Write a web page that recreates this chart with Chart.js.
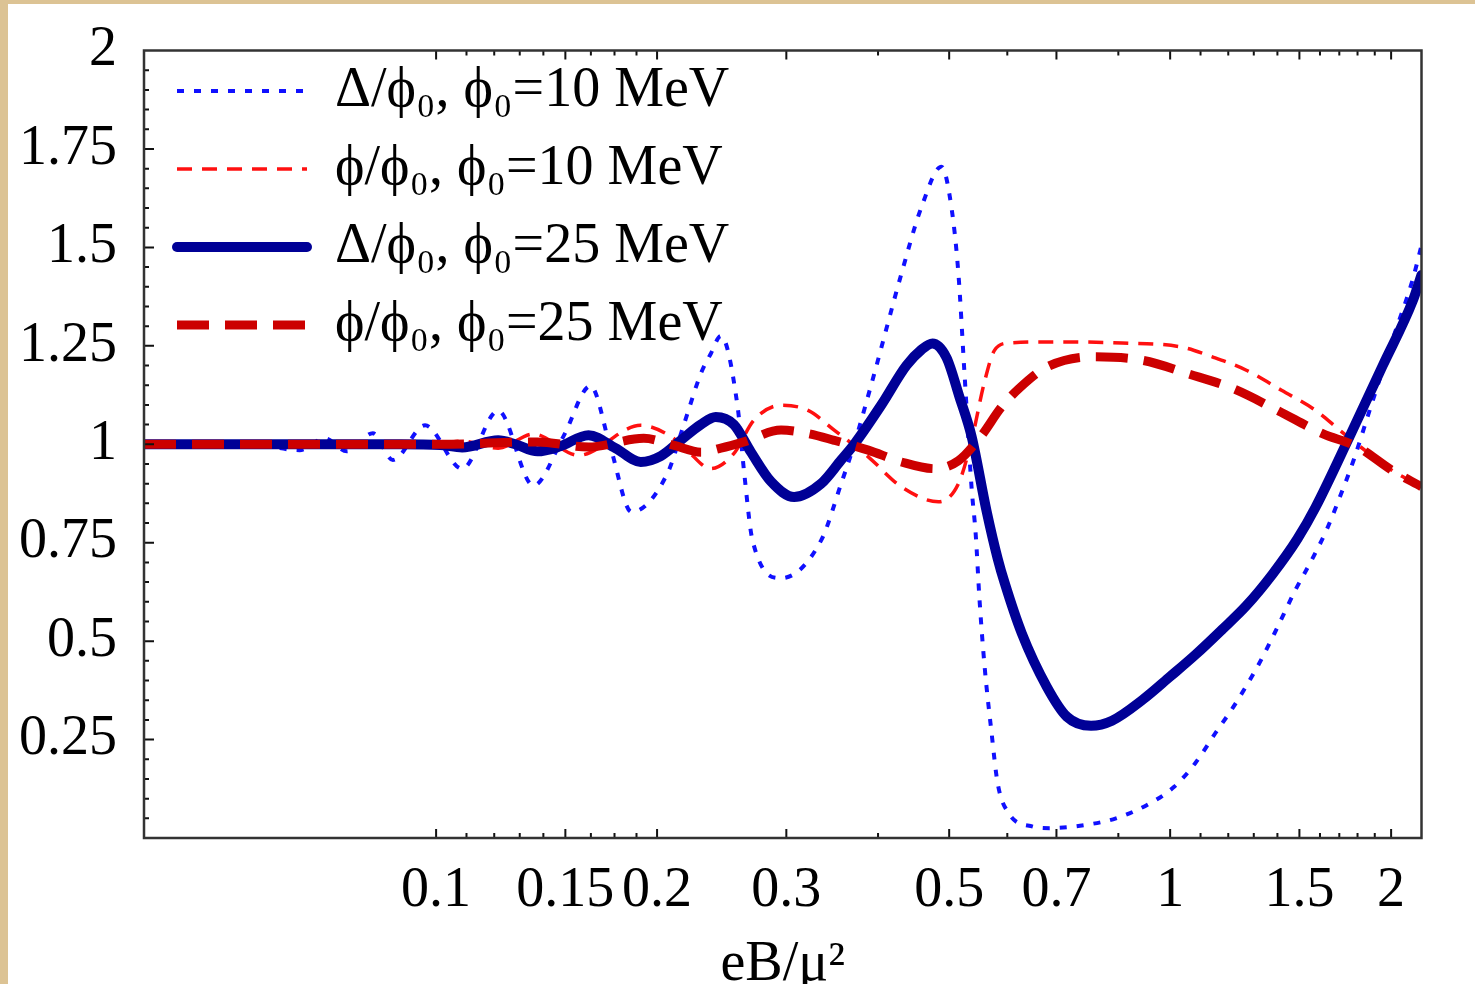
<!DOCTYPE html>
<html>
<head>
<meta charset="utf-8">
<script src="https://cdn.jsdelivr.net/npm/chart.js@4.4.0/dist/chart.umd.min.js"></script>
<style>
  html, body { margin: 0; padding: 0; background: #fff; }
  canvas { display: block; }
</style>
</head>
<body>
<canvas id="plot" width="1475" height="984"></canvas>
<script>
// eB/mu^2 and ratio values
var xD10 = [0.04, 0.0557, 0.0652, 0.0705, 0.0756, 0.082, 0.0873, 0.0966, 0.1085, 0.1215, 0.1357, 0.1491, 0.1623, 0.1729, 0.1846, 0.2066, 0.2177, 0.2295, 0.2367, 0.2443, 0.2575, 0.2629, 0.2698, 0.2951, 0.3346, 0.3563, 0.3712, 0.3954, 0.4304, 0.4583, 0.4881, 0.5037, 0.5147, 0.5246, 0.5364, 0.5433, 0.55, 0.5588, 0.5712, 0.5821, 0.6026, 0.65, 0.6856, 0.7655, 0.8437, 0.9302, 1.0127, 1.0819, 1.152, 1.2194, 1.3148, 1.3874, 1.4815, 1.5631, 1.6331, 1.6964, 1.7783, 1.8762, 2.0043, 2.1413, 2.2];
var yD10 = [1, 1, 0.985, 1.015, 0.982, 1.028, 0.96, 1.048, 0.938, 1.085, 0.895, 1.02, 1.148, 0.99, 0.828, 0.926, 1.052, 1.18, 1.23, 1.275, 1.095, 0.926, 0.756, 0.66, 0.756, 0.9, 1.0, 1.18, 1.433, 1.602, 1.705, 1.6, 1.433, 1.18, 0.89, 0.773, 0.604, 0.435, 0.266, 0.139, 0.063, 0.029, 0.025, 0.033, 0.05, 0.084, 0.13, 0.19, 0.266, 0.333, 0.435, 0.52, 0.63, 0.71, 0.782, 0.858, 0.96, 1.095, 1.26, 1.42, 1.505];

var xP10 = [0.04, 0.0893, 0.0966, 0.1085, 0.1215, 0.1357, 0.1563, 0.19, 0.2088, 0.2196, 0.2367, 0.2544, 0.271, 0.2951, 0.3212, 0.3486, 0.3879, 0.4304, 0.4835, 0.5147, 0.5364, 0.5588, 0.5766, 0.6026, 0.7009, 0.8599, 1.0352, 1.1412, 1.27, 1.418, 1.5779, 1.7017, 1.8179, 2.0043, 2.2];
var yP10 = [1, 1, 0.996, 1.008, 0.99, 1.026, 0.972, 1.048, 1.02, 0.985, 0.938, 0.976, 1.061, 1.099, 1.086, 1.036, 0.968, 0.892, 0.854, 0.9, 1.01, 1.16, 1.239, 1.257, 1.26, 1.257, 1.247, 1.222, 1.188, 1.137, 1.086, 1.036, 0.993, 0.934, 0.892];

var xD25 = [0.04, 0.0652, 0.0893, 0.1013, 0.1085, 0.1215, 0.1282, 0.1374, 0.1477, 0.1613, 0.1756, 0.19, 0.2023, 0.2154, 0.2295, 0.2404, 0.2544, 0.2685, 0.286, 0.3074, 0.3346, 0.3563, 0.3712, 0.4042, 0.4372, 0.4583, 0.4745, 0.4958, 0.5164, 0.5364, 0.5623, 0.5821, 0.595, 0.6278, 0.6792, 0.7234, 0.7802, 0.8333, 0.9186, 1.0, 1.0819, 1.1778, 1.27, 1.3785, 1.4911, 1.5779, 1.7562, 1.9483, 2.1413, 2.2];
var yD25 = [1, 1, 1, 0.998, 0.992, 1.01, 1.0, 0.982, 0.995, 1.023, 0.99, 0.955, 0.97, 1.01, 1.05, 1.069, 1.05, 0.98, 0.905, 0.866, 0.9, 0.96, 1.0, 1.1, 1.2, 1.24, 1.256, 1.22, 1.12, 1.02, 0.83, 0.71, 0.648, 0.52, 0.384, 0.308, 0.285, 0.298, 0.352, 0.41, 0.465, 0.53, 0.59, 0.67, 0.76, 0.84, 1.02, 1.2, 1.365, 1.43];

var xP25 = [0.04, 0.1013, 0.1374, 0.1613, 0.1918, 0.211, 0.2295, 0.2443, 0.2626, 0.2951, 0.3212, 0.3486, 0.3879, 0.4304, 0.4775, 0.5147, 0.5518, 0.5894, 0.6219, 0.6792, 0.7825, 0.9186, 1.0583, 1.2194, 1.4005, 1.6129, 1.8008, 2.0043, 2.2];
var yP25 = [1, 1, 1.006, 0.993, 1.015, 0.997, 0.98, 0.99, 1.006, 1.036, 1.027, 1.01, 0.985, 0.955, 0.938, 0.958, 1.019, 1.095, 1.141, 1.196, 1.222, 1.213, 1.179, 1.141, 1.086, 1.027, 0.993, 0.934, 0.892];

var seriesLabels = ['\u0394/\u03d5\u2080, \u03d5\u2080=10 MeV', '\u03d5/\u03d5\u2080, \u03d5\u2080=10 MeV', '\u0394/\u03d5\u2080, \u03d5\u2080=25 MeV', '\u03d5/\u03d5\u2080, \u03d5\u2080=25 MeV'];

var xTicks = [0.1, 0.15, 0.2, 0.3, 0.5, 0.7, 1, 1.5, 2];
var xTickLabels = ['0.1', '0.15', '0.2', '0.3', '0.5', '0.7', '1', '1.5', '2'];
var xMinorTicks = [0.11, 0.12, 0.13, 0.14, 0.1625, 0.175, 0.1875, 0.4, 0.6, 0.85, 1.1, 1.2, 1.3, 1.4, 1.6, 1.7, 1.8, 1.9];

var serif = "'Liberation Serif', 'DejaVu Serif', serif";

function pts(xs, ys) {
  return xs.map(function (x, i) { return { x: x, y: ys[i] }; });
}

// frame, inward ticks and the page border
var axisMarks = {
  id: 'axisMarks',
  beforeDraw: function (chart) {
    var c = chart.ctx;
    c.save();
    c.fillStyle = '#dcc394';
    c.fillRect(0, 0, chart.width, chart.height);
    c.fillStyle = '#ffffff';
    c.fillRect(8, 4, chart.width - 8, chart.height - 4);
    c.restore();
  },
  afterLayout: function (chart) {
    if (chart.legend) {
      chart.legend.left = 155;
      chart.legend.top = 41;
    }
  },
  afterDatasetsDraw: function (chart) {
    var c = chart.ctx, a = chart.chartArea;
    var xs = chart.scales.x, ys = chart.scales.y;
    c.save();
    c.strokeStyle = '#111';
    c.lineWidth = 2;
    c.beginPath();
    function xTick(v, len) {
      var p = xs.getPixelForValue(v);
      c.moveTo(p, a.bottom); c.lineTo(p, a.bottom - len);
      c.moveTo(p, a.top); c.lineTo(p, a.top + len);
    }
    xTicks.forEach(function (v) { xTick(v, 9); });
    xMinorTicks.forEach(function (v) { xTick(v, 5); });
    for (var i = 1; i < 40; i++) {
      var p = ys.getPixelForValue(i * 0.05);
      c.moveTo(a.left, p);
      c.lineTo(a.left + (i % 5 === 0 ? 10 : 5), p);
    }
    c.stroke();
    c.strokeStyle = '#333';
    c.lineWidth = 2.5;
    c.strokeRect(a.left, a.top, a.right - a.left, a.bottom - a.top);
    c.restore();
  }
};

var ctx = document.getElementById('plot').getContext('2d');
var chart = new Chart(ctx, {
  type: 'line',
  data: {
    datasets: [{
      label: seriesLabels[0],
      data: pts(xD10, yD10),
      borderColor: '#1010ff',
      borderWidth: 4,
      borderDash: [7, 10],
      order: 4
    }, {
      label: seriesLabels[1],
      data: pts(xP10, yP10),
      borderColor: '#ff1010',
      borderWidth: 3.5,
      borderDash: [15, 10],
      order: 3
    }, {
      label: seriesLabels[2],
      data: pts(xD25, yD25),
      borderColor: '#000096',
      borderWidth: 10,
      borderJoinStyle: 'round',
      borderCapStyle: 'round',
      order: 2
    }, {
      label: seriesLabels[3],
      data: pts(xP25, yP25),
      borderColor: '#cc0000',
      borderWidth: 9,
      borderDash: [32, 16],
      order: 1
    }]
  },
  options: {
    responsive: false,
    animation: false,
    devicePixelRatio: 1,
    layout: { padding: { top: 50.5, right: 53.5, left: 0, bottom: 0 } },
    elements: {
      point: { radius: 0, hoverRadius: 0 },
      line: { fill: false, cubicInterpolationMode: 'monotone' }
    },
    scales: {
      x: {
        type: 'logarithmic',
        min: 0.04,
        max: 2.2,
        bounds: 'data',
        grid: { display: false, drawTicks: false },
        border: { display: false },
        afterBuildTicks: function (s) {
          s.ticks = xTicks.map(function (v) { return { value: v }; });
        },
        afterFit: function (s) { s.height = 146; },
        ticks: {
          autoSkip: false,
          maxRotation: 0,
          minRotation: 0,
          padding: 20,
          color: '#000',
          font: { family: serif, size: 56 },
          callback: function (v) {
            var k = xTicks.indexOf(v);
            return k < 0 ? '' : xTickLabels[k];
          }
        },
        title: {
          display: true,
          text: 'eB/\u03bc\u00b2',
          color: '#000',
          padding: 0,
          font: { family: serif, size: 56, lineHeight: 0.68 }
        }
      },
      y: {
        min: 0,
        max: 2,
        grid: { display: false, drawTicks: false },
        border: { display: false },
        afterFit: function (s) { s.width = 144; },
        ticks: {
          stepSize: 0.25,
          padding: 27,
          color: '#000',
          font: { family: serif, size: 56, lineHeight: 0.8 },
          callback: function (v) { return v === 0 ? '' : String(v); }
        }
      }
    },
    plugins: {
      tooltip: { enabled: false },
      legend: {
        position: 'chartArea',
        align: 'start',
        labels: {
          color: '#000',
          font: { family: serif, size: 56 },
          padding: 22,
          usePointStyle: true,
          pointStyle: 'line',
          pointStyleWidth: 130,
          sort: function (a, b) { return a.datasetIndex - b.datasetIndex; },
          generateLabels: function (ch) {
            var items = Chart.defaults.plugins.legend.labels.generateLabels(ch);
            items.forEach(function (it) {
              var ds = ch.data.datasets[it.datasetIndex];
              it.strokeStyle = ds.borderColor;
              it.lineWidth = ds.borderWidth;
              it.lineDash = ds.borderDash || [];
              it.lineCap = ds.borderCapStyle || 'butt';
              it.pointStyle = 'line';
            });
            return items;
          }
        }
      }
    }
  },
  plugins: [axisMarks]
});
</script>
</body>
</html>
